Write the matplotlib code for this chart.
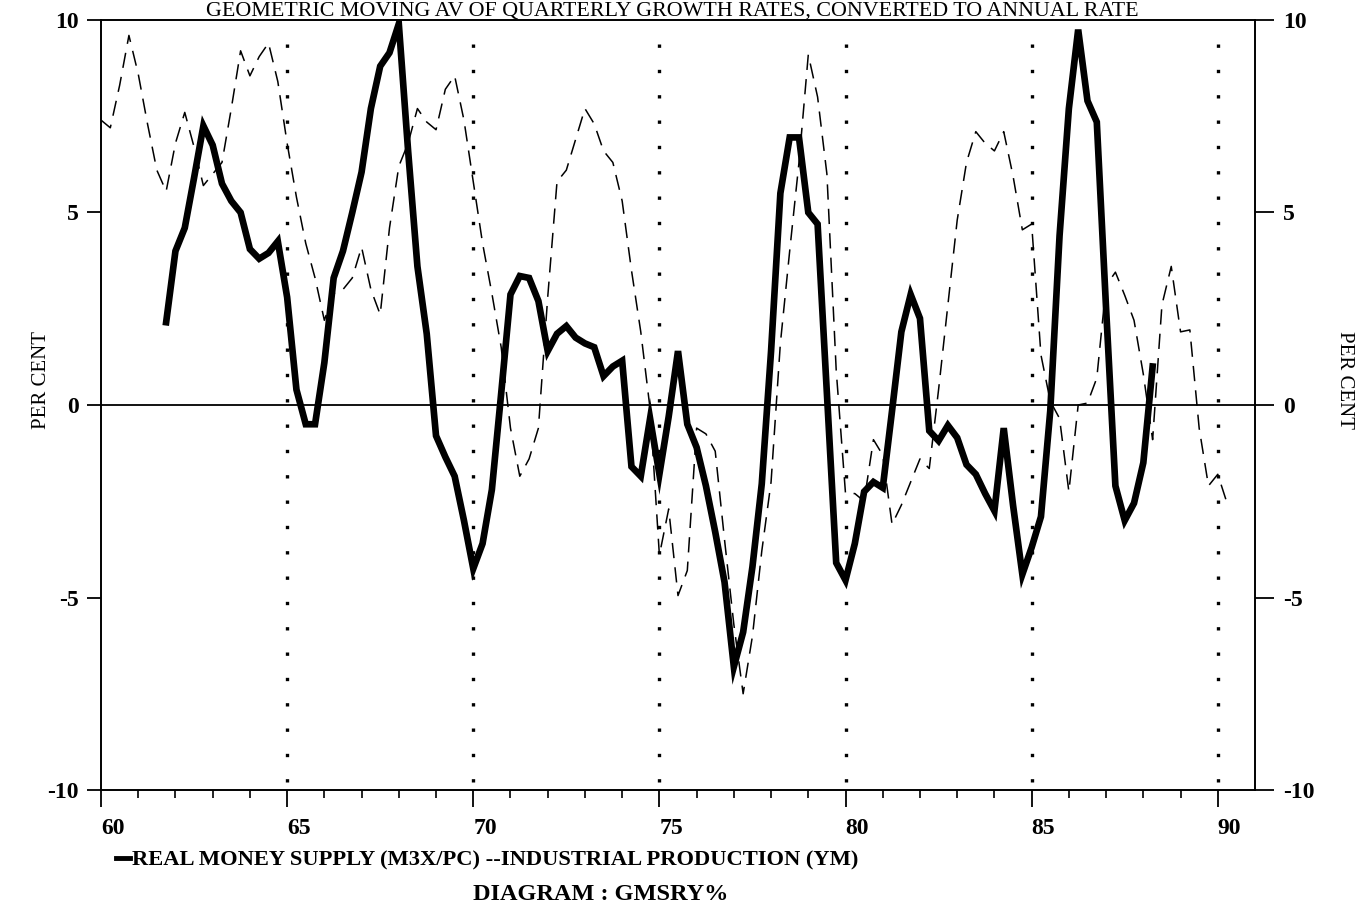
import numpy as np
import matplotlib.pyplot as plt
from matplotlib.lines import Line2D

W, H = 1363, 916

# real money supply (M3X/PC), quarterly growth, first obs 1961 Q4
money_start = 61.75
money = [
    2.15,                        # 61
    4.0, 4.6, 5.9, 7.25,         # 62
    6.75, 5.75, 5.3, 5.0,        # 63
    4.05, 3.8, 3.95, 4.25,       # 64
    2.8, 0.4, -0.5, -0.5,        # 65
    1.1, 3.3, 4.0, 5.0,          # 66
    6.05, 7.7, 8.8, 9.15,        # 67
    9.9, 6.6, 3.6, 1.85,         # 68
    -0.8, -1.35, -1.85, -3.0,    # 69
    -4.25, -3.6, -2.2, 0.3,      # 70
    2.87, 3.35, 3.3, 2.7,        # 71
    1.4, 1.85, 2.05, 1.75,       # 72
    1.6, 1.5, 0.75, 1.0,         # 73
    1.15, -1.6, -1.85, -0.35,    # 74
    -1.8, -0.3, 1.4, -0.5,       # 75
    -1.1, -2.1, -3.3, -4.6,      # 76
    -6.8, -5.9, -4.2, -2.05,     # 77
    1.4, 5.5, 6.95, 6.95,        # 78
    5.0, 4.7, 0.3, -4.1,         # 79
    -4.55, -3.6, -2.25, -2.0,    # 80
    -2.15, -0.15, 1.9, 2.87,     # 81
    2.25, -0.67, -0.93, -0.53,   # 82
    -0.85, -1.55, -1.8, -2.3,    # 83
    -2.75, -0.6, -2.6, -4.4,     # 84
    -3.7, -2.9, -0.15, 4.4,      # 85
    7.7, 9.75, 7.9, 7.35,        # 86
    2.5, -2.1, -3.0, -2.55,      # 87
    -1.5, 1.0,                   # 88
]

# industrial production (YM), quarterly growth, first obs 1960 Q1
prod_start = 60.0
prod = [
    7.4, 7.2, 8.3, 9.6,          # 60
    8.6, 7.3, 6.1, 5.55,         # 61
    6.8, 7.6, 6.7, 5.7,          # 62
    6.0, 6.3, 7.7, 9.2,          # 63
    8.55, 9.05, 9.4, 8.4,        # 64
    6.8, 5.4, 4.2, 3.3,          # 65
    2.2, 2.9, 3.0, 3.3,          # 66
    4.1, 3.0, 2.35, 4.6,         # 67
    6.2, 6.8, 7.7, 7.35,         # 68
    7.15, 8.2, 8.55, 7.4,        # 69
    5.8, 4.2, 2.9, 1.5,          # 70
    -0.6, -1.85, -1.4, -0.6,     # 71
    2.8, 5.8, 6.1, 6.9,          # 72
    7.7, 7.3, 6.6, 6.3,          # 73
    5.3, 3.5, 1.9, -0.1,         # 74
    -3.9, -2.7, -4.95, -4.3,     # 75
    -0.6, -0.75, -1.2, -3.5,     # 76
    -5.7, -7.5, -6.0, -3.8,      # 77
    -2.0, 1.6, 4.0, 6.3,         # 78
    9.1, 8.0, 6.0, 0.9,          # 79
    -2.3, -2.3, -2.5, -0.9,      # 80
    -1.3, -3.1, -2.6, -2.0,      # 81
    -1.4, -1.65, 0.4, 2.6,       # 82
    4.8, 6.3, 7.1, 6.8,          # 83
    6.6, 7.1, 5.95, 4.55,        # 84
    4.7, 1.3, 0.1, -0.35,        # 85
    -2.25, 0.0, 0.05, 0.7,       # 86
    3.1, 3.45, 2.85, 2.2,        # 87
    0.8, -0.9, 2.6, 3.6,         # 88
    1.9, 1.95, -0.6, -2.1,       # 89
    -1.8, -2.55,                 # 90
]

year_ticks = [60, 65, 70, 75, 80, 85, 90]
pct_ticks = [-10, -5, 0, 5, 10]
cycle_marks = [65, 70, 75, 80, 85, 90]

title = 'GEOMETRIC MOVING AV OF QUARTERLY GROWTH RATES, CONVERTED TO ANNUAL RATE'
legend_text = 'REAL MONEY SUPPLY (M3X/PC) --INDUSTRIAL PRODUCTION (YM)'
diagram_text = 'DIAGRAM : GMSRY%'

plt.rcParams['font.family'] = ['Liberation Serif', 'DejaVu Serif']

money_t = money_start + 0.25 * np.arange(len(money))
prod_t = prod_start + 0.25 * np.arange(len(prod))

fig = plt.figure(figsize=(W / 100, H / 100), dpi=100)
ax = fig.add_axes([101 / W, 1 - 790 / H, (1255 - 101) / W, (790 - 20) / H])

ax.plot(money_t, money, color='black', lw=4.8, solid_joinstyle='miter', zorder=4)
ax.plot(prod_t, prod, color='black', lw=1.1, dashes=(10, 6), zorder=3)
ax.axhline(0, color='black', lw=1.3, zorder=2)
for yr in cycle_marks:
    ax.axvline(yr, ymin=0.01, ymax=0.97, color='black', lw=2.4,
               linestyle=(0, (1, 6.6)), zorder=1)

ax.set_xlim(60, 91)
ax.set_ylim(-10, 10)
ax.set_xticks(year_ticks)
ax.set_xticks(np.arange(60, 91), minor=True)
ax.set_xticklabels([str(v) for v in year_ticks], ha='left', fontweight='bold')
ax.set_yticks(pct_ticks)
ax.set_yticklabels([str(v) for v in pct_ticks], fontweight='bold')

ax.tick_params(axis='x', which='major', direction='out', length=12, width=1.3,
               pad=8, labelsize=17)
ax.tick_params(axis='x', which='minor', direction='out', length=6, width=1.2)
ax.tick_params(axis='y', direction='out', length=10, width=1.3, pad=6,
               labelsize=17)

ax2 = ax.twinx()
ax2.set_ylim(-10, 10)
ax2.set_yticks(pct_ticks)
ax2.set_yticklabels([str(v) for v in pct_ticks], fontweight='bold')
ax2.tick_params(axis='y', direction='out', length=14, width=1.3, pad=6,
                labelsize=17)

for a in (ax, ax2):
    for s in a.spines.values():
        s.set_linewidth(1.2)

# title sits just above the frame (fully inside the canvas)
fig.text(672 / W, 1 - 16 / H, title, ha='center', va='baseline', fontsize=15.8)
fig.text(42 / W, 1 - 380 / H, 'PER CENT', rotation=90, ha='center',
         va='center', fontsize=15)
fig.text(1345 / W, 1 - 380 / H, 'PER CENT', rotation=270, ha='center',
         va='center', fontsize=15)

fig.add_artist(Line2D([116 / W, 130 / W], [1 - 858 / H, 1 - 858 / H],
                      color='black', lw=3.5))
fig.text(132 / W, 1 - 860 / H, legend_text, ha='left', va='center',
         fontsize=16.2, fontweight='bold')
fig.text(601 / W, 1 - 894 / H, diagram_text, ha='center', va='center',
         fontsize=17.5, fontweight='bold')

fig.savefig('out.png', dpi=100)
